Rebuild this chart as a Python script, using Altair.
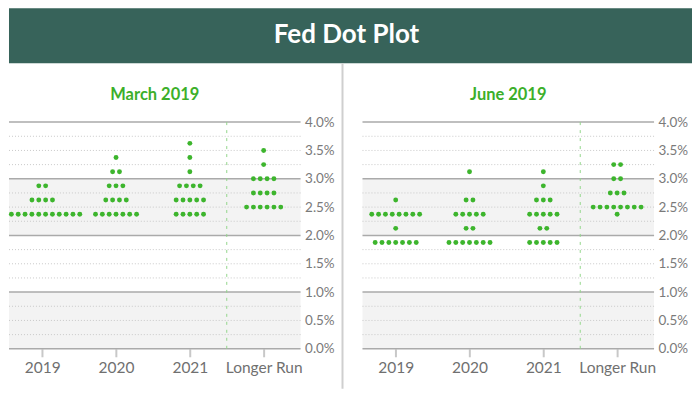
import altair as alt
import pandas as pd

title_text = "Fed Dot Plot"
panel_titles = ["March 2019", "June 2019"]
categories = ["2019", "2020", "2021", "Longer Run"]

# (category index, projected rate in %, number of participants)
march_dots = [
    (0, 2.375, 11), (0, 2.625, 4), (0, 2.875, 2),
    (1, 2.375, 7), (1, 2.625, 4), (1, 2.875, 3), (1, 3.125, 2), (1, 3.375, 1),
    (2, 2.375, 5), (2, 2.625, 5), (2, 2.875, 4), (2, 3.125, 1), (2, 3.375, 1), (2, 3.625, 1),
    (3, 2.5, 6), (3, 2.75, 4), (3, 3.0, 4), (3, 3.25, 1), (3, 3.5, 1),
]
june_dots = [
    (0, 1.875, 7), (0, 2.125, 1), (0, 2.375, 8), (0, 2.625, 1),
    (1, 1.875, 7), (1, 2.125, 2), (1, 2.375, 5), (1, 2.625, 2), (1, 3.125, 1),
    (2, 1.875, 5), (2, 2.125, 2), (2, 2.375, 5), (2, 2.625, 3), (2, 2.875, 1), (2, 3.125, 1),
    (3, 2.375, 1), (3, 2.5, 8), (3, 2.75, 3), (3, 3.0, 2), (3, 3.25, 2),
]

y_ticks = [0.0, 0.5, 1.0, 1.5, 2.0, 2.5, 3.0, 3.5, 4.0]
major_grid = [0, 1, 2, 3, 4]
minor_grid = [0.25, 0.5, 0.75, 1.25, 1.5, 1.75, 2.25, 2.5, 2.75, 3.25, 3.5, 3.75]
band_low = [0, 2]
band_high = [1, 3]
longer_run_split = [2.5]

# layout / style
PW, PH = 292, 227
X_DOMAIN = [-0.45, 3.5]
Y_DOMAIN = [0, 4]
DOT_STEP = 0.0927
EDGE = 0.032
GREEN = "#3db52d"
TITLE_GREEN = "#3caf2a"
BANNER = "#37635a"
FONT = "Lato"


def dots_frame(rows):
    recs = []
    for cat, rate, n in rows:
        offs = [(i - (n - 1) / 2) * DOT_STEP for i in range(n)]
        shift = max(0.0, (X_DOMAIN[0] + EDGE) - (cat + offs[0]))
        for o in offs:
            recs.append({"x": cat + o + shift, "rate": rate})
    return pd.DataFrame(recs)


xs = alt.Scale(domain=X_DOMAIN, nice=False, zero=False)
ys = alt.Scale(domain=Y_DOMAIN, nice=False, zero=False)

label_expr = "[" + ",".join("'" + c + "'" for c in categories) + "][datum.value]"

x_axis = alt.Axis(
    values=list(range(len(categories))), labelExpr=label_expr, title=None,
    domain=False, grid=False, tickColor="#c8c8c8", tickWidth=2, tickSize=8,
    labelFont=FONT, labelFontSize=15.5, labelColor="#707070", labelPadding=4,
    labelFlush=False,
)
y_axis = alt.Axis(
    values=y_ticks, orient="right", title=None, domain=False, grid=False,
    ticks=False, labelExpr="format(datum.value, '.1f') + '%'",
    labelFont=FONT, labelFontSize=13.5, labelColor="#7a7a7a", labelPadding=4,
    labelFlush=False,
)

bands_df = pd.DataFrame({"lo": band_low, "hi": band_high})
major_df = pd.DataFrame({"level": major_grid})
minor_df = pd.DataFrame({"level": minor_grid})
split_df = pd.DataFrame({"x": longer_run_split})


def panel(rows, title):
    bands = alt.Chart(bands_df).mark_rect(color="#f3f3f3").encode(
        x=alt.datum(X_DOMAIN[0], scale=xs, axis=x_axis),
        x2=alt.datum(X_DOMAIN[1]),
        y=alt.Y("lo:Q", scale=ys, axis=y_axis),
        y2="hi:Q",
    )
    minor = alt.Chart(minor_df).mark_rule(color="#c9c9c9", strokeWidth=1, strokeDash=[1, 2]).encode(
        y=alt.Y("level:Q", scale=ys, axis=y_axis)
    )
    major = alt.Chart(major_df).mark_rule(color="#aaaaaa", strokeWidth=1.5).encode(
        y=alt.Y("level:Q", scale=ys, axis=y_axis)
    )
    split = alt.Chart(split_df).mark_rule(color="#93d68b", strokeWidth=1, strokeDash=[3, 5]).encode(
        x=alt.X("x:Q", scale=xs, axis=x_axis)
    )
    dots = alt.Chart(dots_frame(rows)).mark_circle(size=24, color=GREEN, opacity=1).encode(
        x=alt.X("x:Q", scale=xs, axis=x_axis),
        y=alt.Y("rate:Q", scale=ys, axis=y_axis),
    )
    return alt.layer(bands, minor, major, split, dots).properties(
        width=PW, height=PH,
        title=alt.TitleParams(
            text=title, color=TITLE_GREEN, font=FONT, fontSize=16.5, fontWeight="bold",
            anchor="middle", frame="group", baseline="alphabetic", offset=2, dy=3,
        ),
    )


banner_df = pd.DataFrame({"t": [title_text]})
banner_text = alt.Chart(banner_df).mark_text(
    font=FONT, fontSize=26, fontWeight="bold", color="white", align="center", baseline="middle"
).encode(x=alt.value(338), y=alt.value(27), text="t:N")
divider = alt.Chart(banner_df).mark_rule(color="#cfcfcf", strokeWidth=2).encode(
    x=alt.value(334), y=alt.value(55), y2=alt.value(381)
)
banner = alt.layer(banner_text, divider).properties(
    width=684, height=55, view=alt.ViewBackground(fill=BANNER, strokeWidth=0)
)

panels = alt.hconcat(panel(march_dots, panel_titles[0]), panel(june_dots, panel_titles[1]),
                     spacing=62, bounds="flush")

chart = alt.vconcat(banner, panels, spacing=59, bounds="flush", padding=0).configure_view(
    stroke=None
)

chart.save("out.html", embed_options={"renderer": "svg", "actions": False})
